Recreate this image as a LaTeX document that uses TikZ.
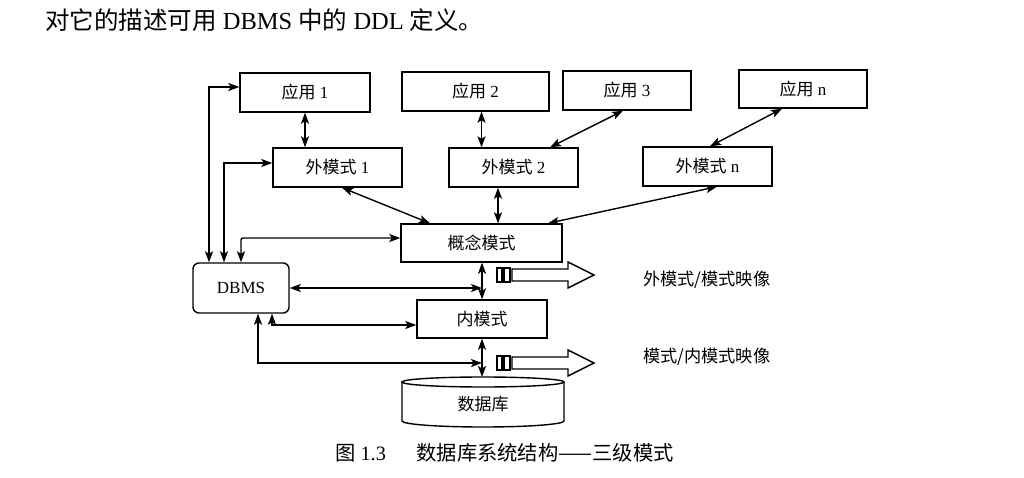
\documentclass[tikz,border=0pt]{standalone}
\usepackage{fontspec}
\setmainfont{Liberation Serif}
\newfontfamily\cjk{Noto Sans CJK SC}
\usetikzlibrary{arrows.meta,calc}
\tikzset{
  box/.style={draw, line width=1.4pt, inner sep=0pt, font=\fontsize{17}{19}\selectfont},
  dbl/.style={line width=1.4pt, {Stealth[length=11pt,width=8pt,inset=2.5pt]}-{Stealth[length=11pt,width=8pt,inset=2.5pt]}},
  lbl/.style={inner sep=0pt, anchor=west, font=\fontsize{17.2}{20}\selectfont},
  maparrow/.pic={
    \draw[line width=1.4pt] (0,-7) rectangle (5,7);
    \draw[line width=1.4pt] (7,-7) rectangle (13,7);
    \draw[line width=1.4pt, line join=miter] (15,-6) -- (71,-6) -- (71,-13) -- (97,0) -- (71,13) -- (71,6) -- (15,6) -- cycle;
  }
}
\begin{document}
\begin{tikzpicture}[x=1pt,y=-1pt]
\fill[white] (0,0) rectangle (1024,478);
\useasboundingbox (0,0) rectangle (1024,478);

\node[inner sep=0pt, anchor=west, font=\fontsize{24.5}{27}\selectfont] (top) at (45,20)
  {{\cjk 对它的描述可用} DBMS {\cjk 中的} DDL {\cjk 定义。}};

\node[box, minimum width=130pt, minimum height=39pt] (app1) at (305,92.5) {{\cjk 应用} 1};
\node[box, minimum width=147pt, minimum height=39pt] (app2) at (475.5,91.5) {{\cjk 应用} 2};
\node[box, minimum width=128pt, minimum height=39pt] (app3) at (627,90.5) {{\cjk 应用} 3};
\node[box, minimum width=128pt, minimum height=38pt] (appn) at (803,89) {{\cjk 应用} n};

\node[box, minimum width=129pt, minimum height=39pt] (ext1) at (337.5,167.5) {{\cjk 外模式} 1};
\node[box, minimum width=129pt, minimum height=39pt] (ext2) at (513.5,167.5) {{\cjk 外模式} 2};
\node[box, minimum width=129pt, minimum height=39pt] (extn) at (707.5,166.5) {{\cjk 外模式} n};

\node[box, minimum width=161pt, minimum height=38pt] (concept) at (481.5,243) {\cjk 概念模式};
\node[box, minimum width=96pt, minimum height=50pt, rounded corners=6pt] (dbms) at (241,288) {DBMS};
\node[box, minimum width=130pt, minimum height=38pt] (inner) at (482,319) {\cjk 内模式};

% database cylinder
\node[inner sep=0pt, minimum width=162pt, minimum height=50pt, font=\fontsize{17}{19}\selectfont] (db) at (483,404) {\cjk 数据库};
\draw[line width=1.4pt] (483,382) ellipse[x radius=81, y radius=5];
\draw[line width=1.4pt] (402,382) -- (402,421) arc[start angle=180, end angle=0, x radius=81, y radius=6] -- (564,382);
\coordinate (dbtop) at (482,377);
\coordinate (j1) at (482,288);
\coordinate (j2) at (482,363);

% application <-> external
\draw[dbl] (app1.south) -- (app1.south |- ext1.north);
\draw[dbl] (concept.south |- app2.south) -- (concept.south |- ext2.north);
\draw[dbl] ([xshift=-4pt]app3.south) -- ([xshift=36.5pt]ext2.north);
\draw[dbl] ([xshift=-21pt]appn.south) -- ([xshift=2.5pt]extn.north);

% external <-> conceptual
\draw[dbl] ([xshift=4.5pt]ext1.south) -- ([xshift=-51.5pt]concept.north);
\draw[dbl] ([xshift=-15.5pt]ext2.south) -- ([xshift=-15.5pt]ext2.south |- concept.north);
\draw[dbl] ([xshift=9.5pt]extn.south) -- ([xshift=66.5pt]concept.north);

% conceptual <-> internal <-> database
\draw[dbl] (concept.south -| j1) -- (inner.north -| j1);
\draw[dbl] (inner.south -| j2) -- (dbtop);

% DBMS connections
\draw[dbl] ([xshift=-32pt]dbms.north) |- ([yshift=5.5pt]app1.west);
\draw[dbl] ([xshift=-17pt]dbms.north) |- ([yshift=4.5pt]ext1.west);
\draw[dbl, rounded corners=2pt] (dbms.north) |- ([yshift=5pt]concept.west);
\draw[dbl] (dbms.east) -- (j1);
\draw[dbl] ([xshift=31pt]dbms.south) |- ([yshift=-6pt]inner.west);
\draw[dbl] ([xshift=17pt]dbms.south) |- (j2);

% mapping arrows
\pic at (497,275) {maparrow};
\pic at (497,363) {maparrow};
\node[lbl] (map1) at (643,280) {\cjk 外模式/模式映像};
\node[lbl] (map2) at (643,357) {\cjk 模式/内模式映像};

\node[inner sep=0pt, anchor=west, font=\fontsize{20.3}{23}\selectfont] (cap) at (335,453)
  {{\cjk 图} 1.3\hspace{1.5em}{\cjk 数据库系统结构——三级模式}};
\end{tikzpicture}
\end{document}
